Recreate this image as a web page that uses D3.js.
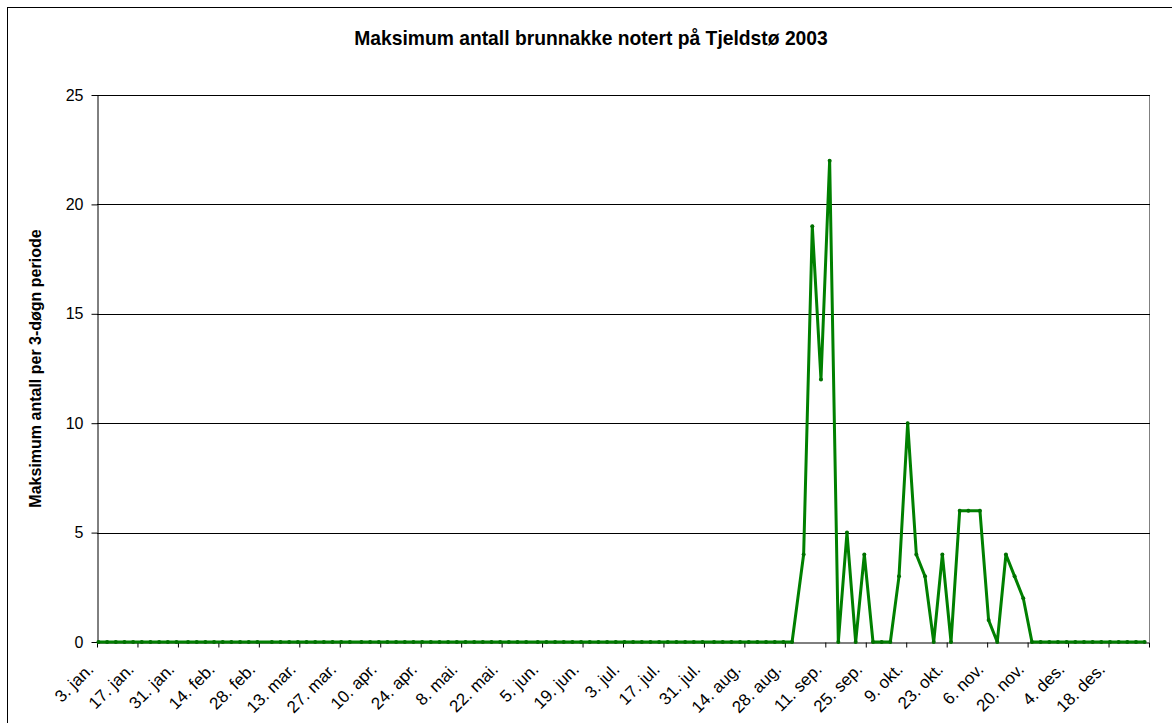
<!DOCTYPE html>
<html>
<head>
<meta charset="utf-8">
<script src="https://cdn.jsdelivr.net/npm/d3@7"></script>
<style>
  html, body { margin: 0; padding: 0; background: #fff; }
  svg { display: block; }
  text { font-family: Arial, "Liberation Sans", sans-serif; }
</style>
</head>
<body>
<svg id="chart" width="1172" height="723"></svg>
<script>
// ---- data ----
const title = "Maksimum antall brunnakke notert på Tjeldstø 2003";
const yTitle = "Maksimum antall per 3-døgn periode";
const dataYear = 2004;              // calendar used by the sheet (13. mar. after 28. feb.)
const periodEndDays = [3, 6, 9, 12, 15, 18, 21, 24, 27, 30];
// values per month, one per 3-day period (3., 6., ... 30.)
const janValues = [0, 0, 0, 0, 0, 0, 0, 0, 0, 0];
const febValues = [0, 0, 0, 0, 0, 0, 0, 0, 0];
const marValues = [0, 0, 0, 0, 0, 0, 0, 0, 0, 0];
const aprValues = [0, 0, 0, 0, 0, 0, 0, 0, 0, 0];
const maiValues = [0, 0, 0, 0, 0, 0, 0, 0, 0, 0];
const junValues = [0, 0, 0, 0, 0, 0, 0, 0, 0, 0];
const julValues = [0, 0, 0, 0, 0, 0, 0, 0, 0, 0];
const augValues = [0, 0, 0, 0, 0, 0, 0, 0, 0, 0];
const sepValues = [4, 19, 12, 22, 0, 5, 0, 4, 0, 0];
const oktValues = [0, 3, 10, 4, 3, 0, 4, 0, 6, 6];
const novValues = [6, 1, 0, 4, 3, 2, 0, 0, 0, 0];
const desValues = [0, 0, 0, 0, 0, 0, 0, 0, 0, 0];
const monthValues = [janValues, febValues, marValues, aprValues, maiValues, junValues,
                     julValues, augValues, sepValues, oktValues, novValues, desValues];
const tickLabels = ["3. jan.", "17. jan.", "31. jan.", "14. feb.", "28. feb.", "13. mar.",
  "27. mar.", "10. apr.", "24. apr.", "8. mai.", "22. mai.", "5. jun.", "19. jun.",
  "3. jul.", "17. jul.", "31. jul.", "14. aug.", "28. aug.", "11. sep.", "25. sep.",
  "9. okt.", "23. okt.", "6. nov.", "20. nov.", "4. des.", "18. des."];
const yTicks = [0, 5, 10, 15, 20, 25];

(function () {
  // build points table
  const points = [];
  monthValues.forEach((vals, m) => {
    vals.forEach((v, i) => {
      points.push({ date: new Date(Date.UTC(dataYear, m, periodEndDays[i], 12)), value: v });
    });
  });

  const svg = d3.select("#chart");
  const pLeft = 97, pRight = 1149, pTop = 95, pBottom = 642;
  const axisStart = new Date(Date.UTC(dataYear, 0, 3));
  const axisEnd = new Date(Date.UTC(dataYear + 1, 0, 1));

  const x = d3.scaleUtc().domain([axisStart, axisEnd]).range([pLeft, pRight]);
  const y = d3.scaleLinear().domain([0, 25]).range([pBottom, pTop]);
  const fontFam = "Arial, 'Liberation Sans', sans-serif";

  // frame
  svg.append("rect").attr("x", 7.5).attr("y", 7.5).attr("width", 1200).attr("height", 800)
    .attr("fill", "#fff").attr("stroke", "#000").attr("stroke-width", 1);

  // title
  svg.append("text").attr("x", 591).attr("y", 45).attr("text-anchor", "middle")
    .attr("font-size", 19.3).attr("font-weight", "bold").text(title);

  // y title
  svg.append("text").attr("transform", `translate(41, ${(pTop + pBottom) / 2}) rotate(-90)`)
    .attr("text-anchor", "middle").attr("font-size", 16).attr("font-weight", "bold").text(yTitle);

  // plot border (right side gray)
  svg.append("line").attr("x1", pRight + 0.5).attr("x2", pRight + 0.5).attr("y1", pTop).attr("y2", pBottom)
    .attr("stroke", "#808080").attr("stroke-width", 1);

  // gridlines
  svg.append("g").selectAll("line").data(yTicks.filter(d => d > 0)).join("line")
    .attr("x1", pLeft).attr("x2", pRight + 1)
    .attr("y1", d => Math.round(y(d)) + 0.5).attr("y2", d => Math.round(y(d)) + 0.5)
    .attr("stroke", "#000").attr("stroke-width", 1);

  // y axis
  const yAxis = svg.append("g").attr("transform", `translate(${pLeft + 0.5},0)`)
    .call(d3.axisLeft(y).tickValues(yTicks).tickSize(6).tickSizeOuter(0).tickPadding(8));
  yAxis.selectAll("text").attr("font-size", 16).attr("font-family", fontFam).attr("fill", "#000");
  yAxis.selectAll("line, path").attr("stroke", "#000");

  // x axis
  const tickDates = d3.range(tickLabels.length + 1).map(k => new Date(Date.UTC(dataYear, 0, 3 + 14 * k)));
  const xAxis = svg.append("g").attr("transform", `translate(0,${pBottom + 0.5})`)
    .call(d3.axisBottom(x).tickValues(tickDates).tickSize(5).tickSizeOuter(0)
      .tickFormat((d, i) => tickLabels[i] || ""));
  xAxis.selectAll("line, path").attr("stroke", "#000");
  xAxis.selectAll("text")
    .attr("font-size", 17).attr("font-family", fontFam).attr("fill", "#000")
    .attr("text-anchor", "end").attr("dy", 0).attr("y", 0)
    .attr("transform", "translate(-3,28) rotate(-45)");

  // series line
  const line = d3.line().x(d => x(d.date)).y(d => y(d.value));
  svg.append("path").datum(points).attr("d", line)
    .attr("fill", "none").attr("stroke", "#008000").attr("stroke-width", 3)
    .attr("stroke-linejoin", "round");
  svg.append("g").selectAll("circle").data(points).join("circle")
    .attr("cx", d => x(d.date)).attr("cy", d => y(d.value)).attr("r", 2)
    .attr("fill", "#007000");
})();
</script>
</body>
</html>
